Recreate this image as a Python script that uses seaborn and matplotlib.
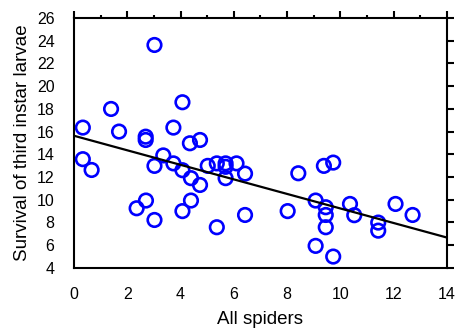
import matplotlib
matplotlib.use("Agg")
import matplotlib.pyplot as plt
import seaborn as sns
import numpy as np
import pandas as pd
from matplotlib.ticker import MultipleLocator

spiders = [0.33, 0.33, 0.66, 1.39, 1.69, 2.35, 2.69, 2.69, 2.70, 3.02, 3.02, 3.02,
           3.35, 3.73, 3.73, 4.07, 4.07, 4.07, 4.35, 4.39, 4.39, 4.73, 4.73, 5.02,
           5.36, 5.36, 5.69, 5.69, 5.69, 6.10, 6.42, 6.42, 8.02, 8.42, 9.07, 9.07,
           9.38, 9.45, 9.45, 9.45, 9.73, 9.73, 10.36, 10.52, 11.42, 11.42, 12.07, 12.71]
survival = [16.35, 13.57, 12.62, 17.99, 16.0, 9.25, 15.55, 15.26, 9.93, 23.62, 12.98, 8.22,
            13.9, 16.35, 13.2, 18.58, 12.6, 9.0, 14.97, 11.9, 9.93, 15.26, 11.3, 12.98,
            13.2, 7.58, 13.2, 12.9, 11.9, 13.2, 12.3, 8.66, 9.0, 12.33, 9.93, 5.94,
            12.98, 9.34, 8.66, 7.58, 13.27, 5.0, 9.63, 8.64, 7.99, 7.28, 9.63, 8.66]
x_ticks = [0, 2, 4, 6, 8, 10, 12, 14]
y_ticks = [4, 6, 8, 10, 12, 14, 16, 18, 20, 22, 24, 26]

df = pd.DataFrame({"All spiders": spiders, "Survival": survival})

sns.set_style("white")
plt.rcParams["font.family"] = ["Liberation Sans", "DejaVu Sans"]
plt.rcParams["text.color"] = "black"
plt.rcParams["axes.labelcolor"] = "black"
plt.rcParams["xtick.color"] = "black"
plt.rcParams["ytick.color"] = "black"

fig = plt.figure(figsize=(4.57, 3.32), dpi=100)
ax = fig.add_axes([0.162, 0.193, 0.816, 0.753])
ax.set_xlim(0, 14)
ax.set_ylim(4, 26)

sns.regplot(data=df, x="All spiders", y="Survival", ax=ax, ci=None, truncate=False,
            scatter_kws=dict(s=95, facecolors="none", edgecolors="#0000ff", linewidths=1.9, alpha=1),
            line_kws=dict(color="black", linewidth=1.6))
ax.set_xlim(0, 14)
ax.set_ylim(4, 26)

ax.set_xticks(x_ticks)
ax.set_yticks(y_ticks)
ax.xaxis.set_minor_locator(MultipleLocator(1))
ax.tick_params(which="both", direction="out", top=True, right=True, labeltop=False, labelright=False,
               width=1.5, color="black", labelcolor="black")
ax.tick_params(which="major", length=5, labelsize=11.5, pad=9)
ax.tick_params(which="minor", length=2.5)
ax.tick_params(axis="y", which="minor", left=False, right=False)

for s in ax.spines.values():
    s.set_visible(True)
    s.set_linewidth(1.5)
    s.set_color("black")

ax.set_xlabel("All spiders", fontsize=13.5, labelpad=6, color="black")
ax.set_ylabel("Survival of third instar larvae", fontsize=13.5, labelpad=4, color="black")

fig.savefig("out.png", dpi=100)
